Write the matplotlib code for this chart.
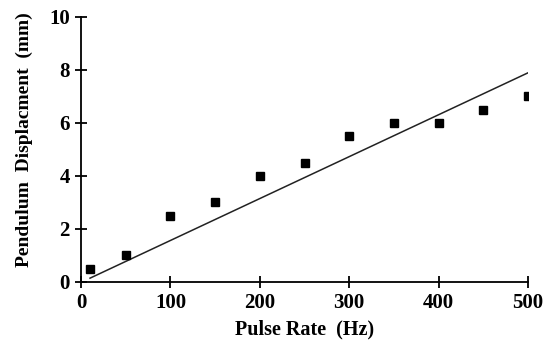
import numpy as np
import matplotlib.pyplot as plt

# measured points
pulse_rate = [10, 50, 100, 150, 200, 250, 300, 350, 400, 450, 500]
displacement = [0.5, 1.0, 2.5, 3.0, 4.0, 4.5, 5.5, 6.0, 6.0, 6.5, 7.0]

# linear trendline ends
fit_x = [10, 500]
fit_y = [0.14, 7.89]

plt.rcParams['font.family'] = ['Liberation Serif', 'DejaVu Serif']
plt.rcParams['font.weight'] = 'bold'

fig = plt.figure(figsize=(5.48, 3.45), dpi=100)
ax = fig.add_axes([0.148, 0.183, 0.8155, 0.768])

ax.plot(pulse_rate, displacement, 's', color='black', markersize=6.3, zorder=3)
ax.plot(fit_x, fit_y, '-', color='#222222', linewidth=1.1)

ax.set_xlim(0, 500)
ax.set_ylim(0, 10)
ax.set_xticks([0, 100, 200, 300, 400, 500])
ax.set_yticks([0, 2, 4, 6, 8, 10])

ax.spines['top'].set_visible(False)
ax.spines['right'].set_visible(False)
for s in ['left', 'bottom']:
  ax.spines[s].set_linewidth(1.3)
ax.tick_params(direction='inout', length=8, width=1.3, labelsize=15, pad=4)
for lab in ax.get_xticklabels() + ax.get_yticklabels():
  lab.set_fontweight('bold')

ax.set_xlabel('Pulse Rate  (Hz)', fontsize=14.5, fontweight='bold', labelpad=5)
ax.set_ylabel('Pendulum  Displacment  (mm)', fontsize=14, fontweight='bold')
ax.yaxis.set_label_coords(-0.107, 0.535)

plt.savefig('out.png', dpi=100)
plt.close()
